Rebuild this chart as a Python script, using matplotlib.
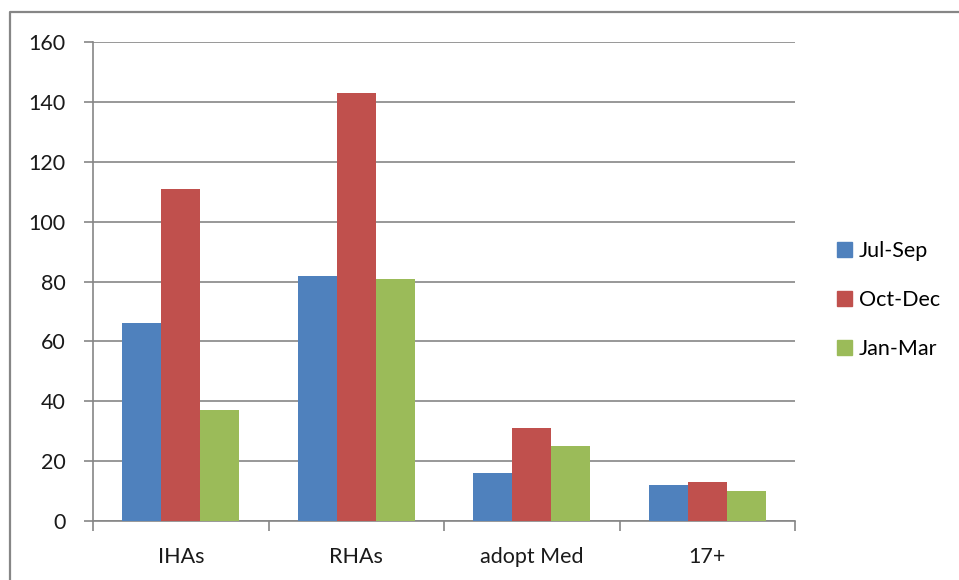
import matplotlib
matplotlib.use("Agg")
import matplotlib.pyplot as plt
import matplotlib.patches as mpatches
from matplotlib.lines import Line2D
import numpy as np

plt.rcParams['font.family'] = ['Lato', 'DejaVu Sans']
plt.rcParams['font.size'] = 15.5

categories = ['IHAs', 'RHAs', 'adopt Med', '17+']
series = ['Jul-Sep', 'Oct-Dec', 'Jan-Mar']
jul_sep = [66, 82, 16, 12]
oct_dec = [111, 143, 31, 13]
jan_mar = [37, 81, 25, 10]
colors = ['#4F81BD', '#C0504D', '#9BBB59']
y_ticks = [0, 20, 40, 60, 80, 100, 120, 140, 160]

W, H = 959, 580
fig = plt.figure(figsize=(W / 100, H / 100), dpi=100)
ax = fig.add_axes([93 / W, (H - 521) / H, 702 / W, 479 / H])

x = np.arange(len(categories))
width = 1 / 4.5
for i, (vals, col) in enumerate(zip([jul_sep, oct_dec, jan_mar], colors)):
    ax.bar(x + (i - 1) * width, vals, width, color=col, label=series[i], zorder=3)

grid_col = '#868686'
ax.set_xlim(-0.5, len(categories) - 0.5)
ax.set_ylim(0, 160)
ax.set_yticks(y_ticks)
ax.yaxis.grid(True, color=grid_col, linewidth=1.2, zorder=0)
ax.tick_params(axis='y', length=6.5, width=1.2, color=grid_col, pad=13, labelcolor='#1a1a1a')

ax.set_xticks(x)
ax.set_xticklabels(categories, color='#1a1a1a')
ax.set_xticks(np.arange(len(categories) + 1) - 0.5, minor=True)
ax.tick_params(axis='x', which='major', length=0, pad=19)
ax.tick_params(axis='x', which='minor', length=7, width=1.2, color=grid_col)

for side in ['top', 'right']:
    ax.spines[side].set_visible(False)
for side in ['left', 'bottom']:
    ax.spines[side].set_color(grid_col)
    ax.spines[side].set_linewidth(1.2)

handles = [mpatches.Patch(color=c, label=s) for c, s in zip(colors, series)]
fig.legend(handles=handles, loc='center left', bbox_to_anchor=(818 / W, 1 - 300 / H),
           frameon=False, handlelength=0.7, handleheight=0.7, handletextpad=0.3,
           labelspacing=1.35, fontsize=15.5)

# outer chart border (top and left edges)
fig.add_artist(Line2D([10 / W, 10 / W, 1.0], [0.0, 1 - 12 / H, 1 - 12 / H],
                      color=grid_col, linewidth=1.6))

fig.savefig('out.png', dpi=100)
